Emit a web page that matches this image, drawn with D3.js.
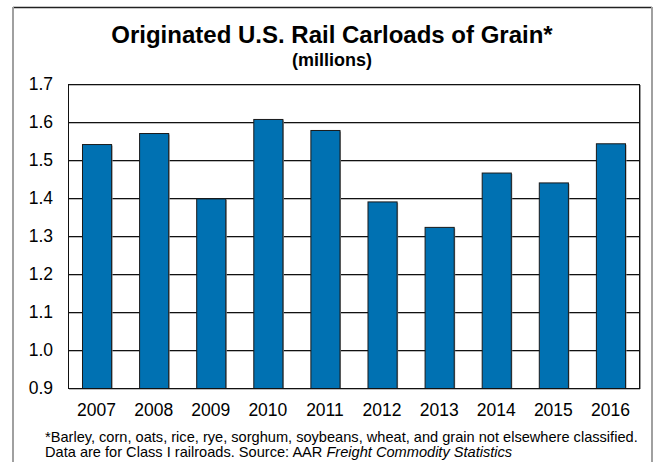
<!DOCTYPE html>
<html>
<head>
<meta charset="utf-8">
<script src="https://cdn.jsdelivr.net/npm/d3@7"></script>
<style>
  html, body { margin: 0; padding: 0; background: #fff; }
  svg { display: block; font-family: "Liberation Sans", Arial, sans-serif; }
</style>
</head>
<body>
<svg id="chart" width="656" height="462"></svg>
<script>
// Originated carloads of grain by year, in millions
const years = ["2007", "2008", "2009", "2010", "2011", "2012", "2013", "2014", "2015", "2016"];
const carloads = [1.542, 1.571, 1.399, 1.608, 1.579, 1.391, 1.324, 1.467, 1.441, 1.544];
const yTicks = [0.9, 1.0, 1.1, 1.2, 1.3, 1.4, 1.5, 1.6, 1.7];

const titleText = "Originated U.S. Rail Carloads of Grain*";
const subtitleText = "(millions)";
const noteLines = [
  "*Barley, corn, oats, rice, rye, sorghum, soybeans, wheat, and grain not elsewhere classified.",
  "Data are for Class I railroads.  Source: AAR "
];
const noteItalic = "Freight Commodity Statistics";

const svg = d3.select("#chart");
const plot = { left: 68, right: 639, top: 84, bottom: 388 };

// Outer frame
svg.append("line").attr("x1", 13).attr("x2", 652).attr("y1", 7.5).attr("y2", 7.5)
  .attr("stroke", "#222").attr("stroke-width", 1.5);
svg.append("line").attr("x1", 13).attr("x2", 13).attr("y1", 7).attr("y2", 462)
  .attr("stroke", "#a0a0a0").attr("stroke-width", 2);
svg.append("line").attr("x1", 652).attr("x2", 652).attr("y1", 7).attr("y2", 462)
  .attr("stroke", "#a0a0a0").attr("stroke-width", 2);

const x = d3.scaleBand()
  .domain(years)
  .range([plot.left, plot.right])
  .paddingInner(0.49)
  .paddingOuter(0.245);

const y = d3.scaleLinear()
  .domain([0.9, 1.7])
  .range([plot.bottom, plot.top]);

// Gridlines with a faint shadow beneath each
const grid = svg.append("g");
grid.selectAll("line.shadow").data(yTicks).join("line")
  .attr("class", "shadow")
  .attr("x1", plot.left + 1).attr("x2", plot.right + 1)
  .attr("y1", d => Math.round(y(d)) + 1.5).attr("y2", d => Math.round(y(d)) + 1.5)
  .attr("stroke", "#bbb").attr("stroke-width", 1);
grid.selectAll("line.major").data(yTicks).join("line")
  .attr("class", "major")
  .attr("x1", plot.left).attr("x2", plot.right)
  .attr("y1", d => Math.round(y(d)) + 0.5).attr("y2", d => Math.round(y(d)) + 0.5)
  .attr("stroke", "#111").attr("stroke-width", 1);

// Bars
const bars = svg.append("g");
bars.selectAll("rect.shadow").data(years).join("rect")
  .attr("class", "shadow")
  .attr("x", (d, i) => x(d) + 1.5)
  .attr("y", (d, i) => y(carloads[i]) + 1.5)
  .attr("width", x.bandwidth())
  .attr("height", (d, i) => y(0.9) - y(carloads[i]) - 1)
  .attr("fill", "#9a9a9a");
bars.selectAll("rect.bar").data(years).join("rect")
  .attr("class", "bar")
  .attr("x", d => x(d) + 0.5)
  .attr("y", (d, i) => y(carloads[i]) + 0.5)
  .attr("width", x.bandwidth())
  .attr("height", (d, i) => y(0.9) - y(carloads[i]))
  .attr("fill", "#0071b2")
  .attr("stroke", "#1a1a1a")
  .attr("stroke-width", 1);

// Plot border
svg.append("rect")
  .attr("x", plot.left + 0.5).attr("y", plot.top + 0.5)
  .attr("width", plot.right - plot.left).attr("height", plot.bottom - plot.top)
  .attr("fill", "none").attr("stroke", "#111").attr("stroke-width", 1);
svg.append("line")
  .attr("x1", plot.right + 1.5).attr("x2", plot.right + 1.5)
  .attr("y1", plot.top + 1).attr("y2", plot.bottom + 1)
  .attr("stroke", "#999");

// Axes
const yAxis = d3.axisLeft(y).tickValues(yTicks).tickFormat(d3.format(".1f")).tickSize(0).tickPadding(15);
svg.append("g").attr("transform", `translate(${plot.left},0)`).call(yAxis)
  .call(g => g.select(".domain").remove())
  .call(g => g.selectAll("text").attr("font-size", 17.5).attr("fill", "#000")
    .attr("font-family", "Liberation Sans, Arial, sans-serif"));

const xAxis = d3.axisBottom(x).tickSize(0).tickPadding(16);
svg.append("g").attr("transform", `translate(0,${plot.bottom})`).call(xAxis)
  .call(g => g.select(".domain").remove())
  .call(g => g.selectAll("text").attr("font-size", 17.5).attr("fill", "#000")
    .attr("font-family", "Liberation Sans, Arial, sans-serif"));

// Titles
svg.append("text").attr("x", 332).attr("y", 43).attr("text-anchor", "middle")
  .attr("font-size", 24).attr("font-weight", "bold").text(titleText);
svg.append("text").attr("x", 332).attr("y", 66).attr("text-anchor", "middle")
  .attr("font-size", 18).attr("font-weight", "bold").text(subtitleText);

// Footnote
svg.append("text").attr("x", 45).attr("y", 442).attr("font-size", 14.6).text(noteLines[0]);
const note2 = svg.append("text").attr("x", 45).attr("y", 457).attr("font-size", 14.6);
note2.append("tspan").text(noteLines[1]);
note2.append("tspan").attr("font-style", "italic").text(noteItalic);
</script>
</body>
</html>
